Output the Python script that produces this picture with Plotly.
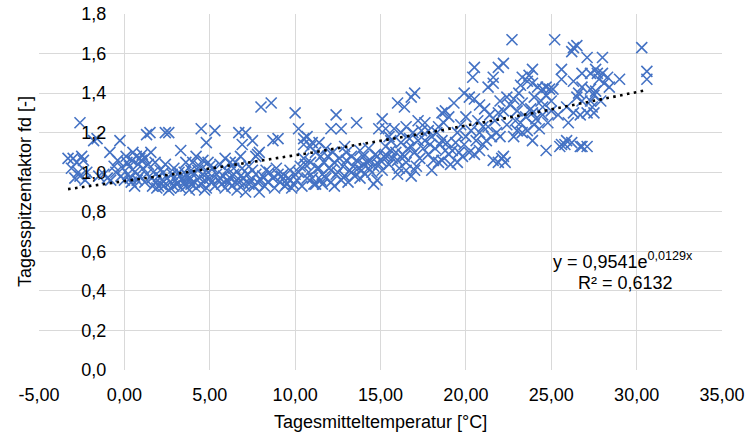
import numpy as np
import plotly.graph_objects as go

# --- data ---
temp_c = [
    -3.3, -3.0, -2.8, -2.6, -2.5, -2.4, -3.1, -2.7, -2.9, -2.6, -2.3, -2.2, -1.8, -1.6, -1.5, -1.2, -1.0, -0.85, -0.6, -0.5, -0.4, -0.26, -0.2, -0.1, -0.8,
    0.1, 0.15, 0.2, 0.3, 0.35, 0.45, 0.5, 0.6, 0.7, 0.75, 0.8, 0.9, 1.0, 1.05, 1.1, 1.2, 1.3, 1.3, 1.4, 1.5, 1.55, 1.6, 1.65, 1.7, 1.8, 1.85, 1.9, 2.0, 2.1, 2.15, 0.4, 0.9, 1.2, 0.0, 0.6,
    2.2, 2.3, 2.4, 2.4, 2.5, 2.6, 2.6, 2.7, 2.8, 2.9, 3.0, 3.1, 3.2, 3.3, 3.3, 3.4, 3.5, 3.6, 3.6, 3.7, 3.8, 3.9, 4.0, 4.0, 4.1, 4.2, 4.3, 4.4, 4.4, 4.5, 4.5, 4.6, 4.6, 4.7, 4.8, 4.8, 4.9, 4.9, 5.0, 2.3, 2.9, 3.1, 3.9, 4.2, 2.7, 3.5, 4.7, 2.0, 3.8,
    5.1, 5.2, 5.3, 5.3, 5.4, 5.5, 5.6, 5.7, 5.8, 5.9, 5.9, 6.0, 6.1, 6.2, 6.2, 6.3, 6.4, 6.5, 6.5, 6.6, 6.7, 6.7, 6.8, 6.8, 6.9, 6.9, 7.0, 7.1, 7.1, 7.2, 7.3, 7.3, 7.4, 7.5, 7.5, 5.6, 6.0, 6.4, 5.0, 7.0,
    7.6, 7.7, 7.7, 7.8, 7.9, 7.9, 8.0, 8.0, 8.2, 8.3, 8.5, 8.6, 8.7, 8.7, 8.8, 8.9, 9.0, 9.1, 9.2, 9.3, 9.4, 9.5, 9.6, 9.7, 9.8, 9.9, 10.0, 10.0, 8.4, 9.0, 7.8, 8.1, 9.7,
    10.1, 10.2, 10.3, 10.4, 10.5, 10.5, 10.5, 10.6, 10.7, 10.7, 10.8, 10.9, 11.0, 11.0, 11.1, 11.2, 11.2, 11.3, 11.4, 11.4, 11.5, 11.6, 11.6, 11.7, 11.8, 11.8, 11.9, 12.0, 12.1, 12.1, 12.1, 12.2, 12.3, 12.4, 12.4, 12.5, 12.6, 12.7, 12.7, 10.9, 11.5, 10.2, 12.3,
    12.8, 12.9, 13.0, 13.1, 13.2, 13.3, 13.3, 13.4, 13.5, 13.6, 13.6, 13.7, 13.8, 13.9, 14.0, 14.0, 14.1, 14.2, 14.3, 14.4, 14.5, 14.6, 14.6, 14.7, 14.8, 14.8, 14.9, 14.9, 15.0, 15.1, 15.1, 13.0, 13.8, 14.3, 12.9,
    15.2, 15.3, 15.3, 15.4, 15.5, 15.6, 15.7, 15.8, 15.9, 16.0, 16.0, 16.1, 16.2, 16.2, 16.3, 16.4, 16.4, 16.5, 16.5, 16.5, 16.6, 16.7, 16.8, 16.8, 16.8, 16.9, 17.0, 17.0, 17.0, 17.2, 17.2, 17.3, 17.4, 17.5, 15.6, 16.0, 15.5, 17.1,
    17.6, 17.6, 17.8, 17.8, 18.0, 18.1, 18.2, 18.3, 18.4, 18.4, 18.5, 18.6, 18.6, 18.6, 18.7, 18.8, 18.8, 18.9, 19.0, 19.0, 19.2, 19.3, 19.4, 19.5, 19.6, 19.7, 19.8, 19.9, 19.9, 20.0, 18.0, 19.1, 17.9, 19.5,
    20.2, 20.2, 20.3, 20.4, 20.5, 20.5, 20.5, 20.6, 20.7, 20.8, 20.8, 20.8, 21.0, 21.1, 21.2, 21.3, 21.3, 21.4, 21.5, 21.6, 21.6, 21.6, 21.7, 21.8, 21.9, 21.9, 21.9, 22.0, 22.1, 22.2, 22.2, 22.2, 22.3, 22.4, 22.4, 20.0, 21.0, 22.0,
    22.6, 22.7, 22.8, 22.8, 23.0, 23.0, 23.2, 23.2, 23.3, 23.3, 23.3, 23.5, 23.6, 23.6, 23.7, 23.8, 23.9, 23.9, 23.9, 23.9, 24.0, 24.1, 24.2, 24.3, 24.5, 24.5, 24.5, 24.7, 24.7, 24.7, 24.8, 24.9, 25.0, 25.0, 23.1, 24.0, 22.9, 24.4,
    25.1, 25.2, 25.4, 25.5, 25.6, 25.6, 25.6, 25.8, 25.9, 25.9, 26.2, 26.2, 26.3, 26.3, 26.3, 26.5, 26.5, 26.7, 26.7, 26.8, 26.8, 26.8, 26.8, 27.1, 27.1, 27.1, 27.3, 27.3, 27.3, 27.4, 27.5, 26.0, 26.6,
    27.6, 27.6, 27.7, 27.8, 28.0, 28.0, 28.1, 28.3, 28.4, 29.0, 27.9, 30.3, 30.6, 30.6, 27.5,
]
peak_factor = [
    1.07, 1.07, 1.05, 1.25, 1.08, 1.06, 1.02, 1.00, 0.97, 0.98, 0.96, 1.00, 1.16, 1.17, 0.98, 0.99, 0.97, 1.10, 1.03, 1.00, 1.06, 1.16, 0.98, 1.02, 0.96,
    1.08, 1.05, 0.99, 1.03, 0.97, 1.06, 1.10, 1.00, 1.08, 0.96, 1.04, 0.98, 1.06, 1.09, 1.02, 0.95, 1.19, 0.99, 1.04, 1.20, 1.10, 0.97, 0.93, 1.00, 1.05, 0.95, 0.92, 0.98, 1.01, 0.94, 0.95, 1.07, 1.07, 0.96, 0.93,
    0.96, 0.93, 1.20, 1.04, 0.97, 1.20, 0.91, 0.95, 0.99, 0.93, 0.96, 0.94, 1.00, 1.11, 0.92, 0.97, 0.95, 1.05, 0.93, 0.98, 0.96, 0.94, 1.05, 0.99, 0.95, 0.92, 1.01, 1.03, 0.97, 1.22, 0.94, 1.06, 0.99, 0.96, 1.15, 0.92, 1.05, 1.00, 0.97, 1.00, 1.02, 0.99, 1.01, 1.08, 0.92, 1.00, 0.91, 0.93, 0.91,
    0.95, 1.02, 1.21, 0.93, 0.99, 0.96, 1.04, 0.94, 0.98, 1.07, 0.92, 1.01, 0.95, 1.05, 0.97, 0.93, 0.99, 1.05, 0.95, 0.91, 1.20, 0.95, 1.08, 0.98, 1.14, 1.02, 0.94, 1.20, 0.90, 0.99, 0.94, 1.03, 0.96, 1.16, 1.01, 0.97, 0.96, 1.02, 1.03, 0.97,
    0.93, 1.08, 0.99, 1.09, 0.90, 1.10, 1.33, 0.96, 0.93, 1.01, 1.00, 1.35, 1.16, 0.97, 0.92, 1.02, 1.17, 0.95, 0.98, 0.99, 0.93, 0.94, 0.97, 1.01, 0.92, 0.94, 0.99, 1.30, 0.95, 0.99, 0.95, 0.98, 0.96,
    0.96, 1.22, 1.03, 0.93, 1.17, 1.07, 1.14, 1.04, 1.18, 0.97, 1.00, 1.13, 1.15, 0.97, 0.94, 1.10, 0.94, 1.02, 1.15, 1.02, 0.96, 0.99, 0.94, 1.05, 1.12, 0.97, 1.08, 1.02, 1.22, 1.01, 0.95, 1.10, 1.05, 1.29, 0.99, 1.00, 1.07, 1.22, 0.96, 1.05, 1.08, 1.00, 0.93,
    1.03, 0.98, 1.06, 0.95, 1.01, 1.08, 1.00, 1.03, 0.98, 1.25, 1.06, 1.02, 0.97, 1.01, 1.08, 1.04, 0.99, 1.05, 1.02, 1.06, 1.00, 0.94, 1.03, 1.09, 1.08, 0.96, 1.22, 1.04, 1.06, 1.27, 1.01, 1.10, 1.11, 1.12, 1.13,
    1.08, 1.22, 1.13, 1.08, 1.04, 1.11, 1.07, 1.22, 1.10, 1.35, 1.06, 1.02, 1.15, 1.20, 1.09, 1.33, 1.08, 1.23, 1.05, 1.01, 1.12, 1.17, 1.38, 1.13, 0.98, 1.20, 1.40, 1.10, 1.01, 1.26, 1.16, 1.07, 1.21, 1.12, 1.16, 0.99, 1.18, 1.03,
    1.25, 1.16, 1.21, 1.09, 1.18, 1.06, 1.12, 1.20, 1.23, 1.05, 1.14, 1.30, 1.16, 1.06, 1.25, 1.31, 1.11, 1.15, 1.28, 1.09, 1.11, 1.35, 1.15, 1.20, 1.10, 1.24, 1.08, 1.40, 1.14, 1.18, 1.01, 1.04, 1.14, 1.05,
    1.38, 1.10, 1.21, 1.48, 1.53, 1.37, 1.09, 1.16, 1.26, 1.34, 1.11, 1.20, 1.23, 1.32, 1.16, 1.43, 1.23, 1.29, 1.18, 1.48, 1.45, 1.06, 1.26, 1.20, 1.53, 1.30, 1.05, 1.36, 1.07, 1.55, 1.31, 1.08, 1.05, 1.38, 1.24, 1.28, 1.14, 1.18,
    1.34, 1.67, 1.37, 1.18, 1.31, 1.21, 1.44, 1.25, 1.48, 1.35, 1.20, 1.28, 1.46, 1.21, 1.49, 1.32, 1.52, 1.45, 1.30, 1.16, 1.38, 1.27, 1.43, 1.22, 1.42, 1.33, 1.29, 1.39, 1.43, 1.11, 1.25, 1.42, 1.31, 1.36, 1.40, 1.24, 1.26, 1.36,
    1.42, 1.67, 1.29, 1.13, 1.52, 1.47, 1.14, 1.14, 1.33, 1.16, 1.61, 1.15, 1.46, 1.30, 1.63, 1.64, 1.38, 1.13, 1.29, 1.50, 1.43, 1.36, 1.13, 1.58, 1.30, 1.13, 1.50, 1.42, 1.36, 1.33, 1.30, 1.25, 1.40,
    1.52, 1.41, 1.50, 1.47, 1.58, 1.50, 1.45, 1.48, 1.43, 1.47, 1.36, 1.63, 1.51, 1.47, 1.39,
]

# exponential trendline coefficients (as printed on the chart)
TREND_A = 0.9541
TREND_B = 0.0129
equation_text = "y = 0,9541e<sup>0,0129x</sup>"
r2_text = "R² = 0,6132"

x_tickvals = [-5, 0, 5, 10, 15, 20, 25, 30, 35]
x_ticktext = ["-5,00", "0,00", "5,00", "10,00", "15,00", "20,00", "25,00", "30,00", "35,00"]
y_tickvals = [0.0, 0.2, 0.4, 0.6, 0.8, 1.0, 1.2, 1.4, 1.6, 1.8]
y_ticktext = ["0,0", "0,2", "0,4", "0,6", "0,8", "1,0", "1,2", "1,4", "1,6", "1,8"]

x_title = "Tagesmitteltemperatur [°C]"
y_title = "Tagesspitzenfaktor fd [-]"

# --- figure ---
BLUE = "#4472C4"
GRID = "#d9d9d9"
FONT = "Liberation Sans, Arial, sans-serif"

xs = np.array(temp_c)
trend_x = np.linspace(xs.min(), xs.max(), 120)
trend_y = TREND_A * np.exp(TREND_B * trend_x)

fig = go.Figure()
fig.add_trace(go.Scatter(
    x=temp_c, y=peak_factor, mode="markers",
    marker=dict(symbol="x-thin", size=11, color=BLUE,
                line=dict(color=BLUE, width=1.6)),
    showlegend=False, hoverinfo="x+y",
))
fig.add_trace(go.Scatter(
    x=trend_x, y=trend_y, mode="lines",
    line=dict(color="black", width=2.6, dash="2.6px,4.4px"),
    showlegend=False, hoverinfo="skip",
))

x_min, x_max = -5, 35
y_axis_pos = (0 - x_min) / (x_max - x_min)

fig.update_layout(
    width=752, height=436,
    margin=dict(l=39, r=30, t=14, b=66, autoexpand=False),
    paper_bgcolor="white", plot_bgcolor="white",
    font=dict(family=FONT, size=18, color="#000000"),
    xaxis=dict(
        range=[x_min, x_max], tickvals=x_tickvals, ticktext=x_ticktext,
        showgrid=True, gridcolor=GRID, gridwidth=1.3, zeroline=False,
        showline=False, ticks="", ticklabelstandoff=12, automargin=False,
        tickfont=dict(size=18),
    ),
    yaxis=dict(
        range=[0, 1.8], tickvals=y_tickvals, ticktext=y_ticktext,
        anchor="free", position=y_axis_pos, automargin=False,
        showgrid=True, gridcolor=GRID, gridwidth=1.3, zeroline=False,
        showline=False, ticks="", ticklabelstandoff=18,
        tickfont=dict(size=18),
    ),
    annotations=[
        dict(text=x_title, xref="paper", yref="paper", x=0.5, y=0,
             yshift=-52, showarrow=False, font=dict(size=18),
             xanchor="center", yanchor="middle"),
        dict(text=y_title, xref="paper", yref="paper", x=0, y=0.5,
             xshift=-14, textangle=-90, showarrow=False, font=dict(size=18),
             xanchor="center", yanchor="middle"),
        dict(text=equation_text, xref="x", yref="y", x=29.2, y=0.556,
             showarrow=False, font=dict(size=18), xanchor="center", yanchor="middle"),
        dict(text=r2_text, xref="x", yref="y", x=29.37, y=0.44,
             showarrow=False, font=dict(size=18), xanchor="center", yanchor="middle"),
    ],
)

fig.write_html(
    "out.html",
    config={"displayModeBar": False},
    post_script="document.body.style.margin='0';document.body.style.padding='0';",
)
